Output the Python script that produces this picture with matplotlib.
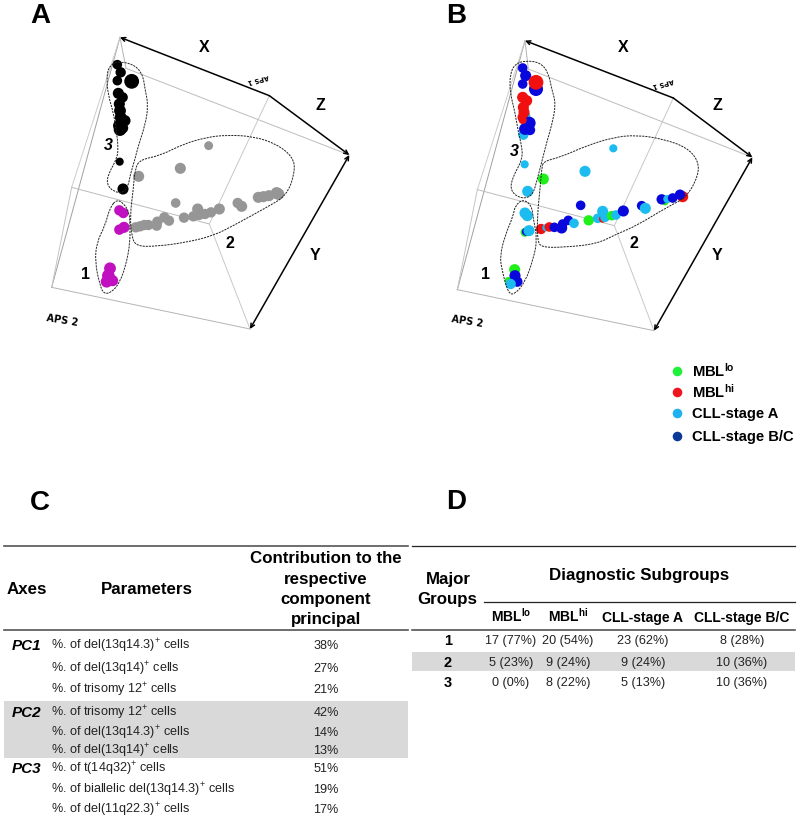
import numpy as np
import matplotlib
matplotlib.use('Agg')
import matplotlib.pyplot as plt
from matplotlib.path import Path
from matplotlib.patches import PathPatch, Rectangle

plt.rcParams['font.family'] = ['Liberation Sans', 'DejaVu Sans']
plt.rcParams['mathtext.fontset'] = 'custom'
plt.rcParams['mathtext.rm'] = 'Liberation Sans'
plt.rcParams['mathtext.bf'] = 'Liberation Sans:bold'
plt.rcParams['mathtext.default'] = 'regular'

W, H = 799, 820

GREEN = '#1ff01a'
RED = '#f01010'
CYAN = '#1cbcf0'
BLUE = '#0808dc'
NAVY = '#0b3a96'
BLACK = '#000000'
GRAY = '#969696'
MAGENTA = '#c010c0'

# panel A scores
a_black_x = [352, 362, 352, 395, 355, 368, 358, 360, 362, 375, 358, 368, 360, 359, 369]
a_black_y = [197, 220, 245, 247, 283, 295, 315, 335, 355, 365, 380, 387, 392, 488, 570]
a_black_r = [13, 14, 13, 20, 15, 14, 15, 16, 16, 15, 17, 15, 17, 11, 15]
a_gray_x = [416, 541, 626, 407, 420, 433, 445, 470, 472, 493, 507, 552, 580, 593, 597, 615, 633, 658, 527, 713, 725, 775, 790, 807, 830, 835]
a_gray_y = [532, 508, 440, 685, 682, 678, 678, 680, 668, 655, 665, 656, 652, 630, 648, 645, 640, 630, 612, 612, 622, 595, 593, 590, 582, 585]
a_gray_r = [15, 15, 12, 14, 14, 14, 14, 14, 14, 14, 14, 14, 14, 15, 14, 14, 14, 15, 13, 14, 15, 15, 15, 15, 16, 16]
a_mag_x = [358, 370, 358, 372, 330, 325, 320, 338]
a_mag_y = [634, 642, 692, 685, 808, 830, 848, 845]
a_mag_r = [14, 14, 14, 15, 16, 17, 16, 15]

# panel B scores, drawn in this order
b_x = [368, 377, 368, 408, 408, 370, 380, 368, 380, 370, 372, 368, 388, 375, 390, 368,
       374, 383, 375, 382, 375, 378, 387, 344, 325, 345, 352, 332,
       430, 555, 640, 542, 423, 438, 448, 463, 485, 488, 505, 522, 566, 593, 608, 608, 615, 635, 648, 670,
       725, 736, 795, 785, 802, 818, 848, 840]
b_y = [207, 230, 255, 270, 250, 407, 350, 295, 305, 325, 340, 355, 372, 390, 393, 363,
       496, 577, 642, 650, 700, 698, 695, 812, 845, 830, 848, 855,
       540, 517, 448, 619, 690, 686, 684, 685, 687, 675, 664, 673, 664, 658, 660, 637, 655, 650, 648, 636,
       620, 628, 608, 601, 600, 597, 593, 587]
b_r = [13, 15, 13, 19, 20, 14, 10, 15, 15, 15, 15, 14, 17, 16, 14, 11,
       11, 15, 15, 15, 12, 11, 15, 15, 10, 15, 14, 14,
       15, 15, 11, 13, 14, 10, 13, 13, 15, 13, 13, 13, 14, 13, 10, 15, 13, 13, 13, 15,
       13, 15, 10, 14, 11, 13, 15, 14]
b_c = [BLUE, BLUE, BLUE, BLUE, RED, CYAN, CYAN, RED, RED, RED, RED, RED, BLUE, BLUE, BLUE, RED,
       CYAN, CYAN, CYAN, CYAN, GREEN, BLUE, CYAN, GREEN, GREEN, BLUE, BLUE, CYAN,
       GREEN, CYAN, CYAN, BLUE, RED, CYAN, RED, BLUE, BLUE, BLUE, BLUE, CYAN, GREEN, CYAN, RED, CYAN, CYAN, GREEN, CYAN, BLUE,
       BLUE, CYAN, GREEN, BLUE, CYAN, BLUE, RED, BLUE]

# dashed group outlines
a_group3 = [(350, 187), (400, 195), (428, 225), (435, 270), (445, 320), (435, 380), (415, 440), (405, 480), (390, 530),
            (385, 560), (370, 582), (340, 578), (320, 555), (325, 525), (350, 480), (355, 450), (350, 400), (340, 340),
            (325, 290), (320, 240), (325, 205)]
a_group1 = [(350, 602), (370, 612), (388, 640), (390, 680), (390, 730), (380, 790), (360, 850), (335, 880), (312, 885),
            (300, 860), (285, 790), (290, 730), (315, 680), (330, 625)]
a_group2 = [(420, 482), (480, 470), (550, 435), (620, 415), (680, 408), (760, 412), (830, 435), (880, 475), (885, 520),
            (860, 590), (800, 625), (700, 680), (640, 710), (560, 730), (470, 742), (410, 742), (395, 715), (390, 650),
            (400, 570), (405, 510)]
b_group3 = [(375, 185), (420, 190), (445, 220), (455, 270), (468, 315), (455, 380), (440, 430), (425, 490), (412, 540),
            (398, 590), (365, 600), (332, 578), (335, 540), (368, 480), (365, 440), (355, 400), (345, 340), (330, 280),
            (330, 225), (345, 195)]
b_group1 = [(370, 600), (395, 620), (400, 660), (412, 720), (400, 780), (375, 850), (345, 885), (325, 885), (305, 810),
            (300, 770), (315, 710), (340, 650), (345, 620)]
b_group2 = [(430, 487), (480, 475), (560, 440), (640, 415), (710, 408), (790, 420), (860, 445), (895, 485), (895, 530),
            (860, 595), (800, 625), (710, 680), (650, 705), (590, 735), (490, 745), (425, 745), (412, 725), (412, 650),
            (420, 570), (425, 510)]

# table C
c_axes = ['PC1', '', '', 'PC2', '', '', 'PC3', '', '']
c_params = ['%. of del(13q14.3)$^{+}$ cells', '%. of del(13q14)$^{+}$ cells', '%. of trisomy 12$^{+}$ cells',
            '%. of trisomy 12$^{+}$ cells', '%. of del(13q14.3)$^{+}$ cells', '%. of del(13q14)$^{+}$ cells',
            '%. of t(14q32)$^{+}$ cells', '%. of biallelic del(13q14.3)$^{+}$ cells', '%. of del(11q22.3)$^{+}$ cells']
c_values = ['38%', '27%', '21%', '42%', '14%', '13%', '51%', '19%', '17%']
c_rows_y = [645, 668, 689, 712, 732, 750, 768, 789, 809]

# table D
d_groups = ['1', '2', '3']
d_columns = [r'MBL$^{\mathbf{lo}}$', r'MBL$^{\mathbf{hi}}$', 'CLL-stage A', 'CLL-stage B/C']
d_mbl_lo = ['17 (77%)', '5 (23%)', '0 (0%)']
d_mbl_hi = ['20 (54%)', '9 (24%)', '8 (22%)']
d_stage_a = ['23 (62%)', '9 (24%)', '5 (13%)']
d_stage_bc = ['8 (28%)', '10 (36%)', '10 (36%)']
d_rows_y = [640, 662, 682]
d_cols_x = [511, 568, 643, 742]

legend_labels = [r'MBL$^{\mathbf{lo}}$', r'MBL$^{\mathbf{hi}}$', 'CLL-stage A', 'CLL-stage B/C']
legend_colors = ['#1ff03a', '#f0141e', '#1fb0ee', NAVY]
legend_y = [372, 393, 414, 437]
legend_text_y = [377, 398, 418, 441]


def smooth_closed(pts):
    # closed curve through the midpoints of the outline points
    pts = np.array(pts, dtype=float)
    mids = (pts + np.roll(pts, -1, axis=0)) / 2
    verts = [mids[-1]]
    codes = [Path.MOVETO]
    for p, m in zip(pts, mids):
        verts += [p, m]
        codes += [Path.CURVE3, Path.CURVE3]
    return Path(verts, codes)


def size(r, scale=0.37):
    # crop radius -> scatter area in points^2
    return (2 * np.array(r) * scale * 72 / 100) ** 2


def draw_cube(ax, top, mid_top, right, inner, front, left, back, center):
    for p, q, col in [(top, left, '#a0a0a0'), (top, back, '#cccccc'), (top, inner, '#b4b4b4'), (inner, right, '#bcbcbc'),
                      (mid_top, center, '#c8c8c8'), (back, center, '#bcbcbc'), (center, front, '#c8c8c8'),
                      (back, left, '#c4c4c4'), (left, front, '#b4b4b4')]:
        ax.plot([p[0], q[0]], [p[1], q[1]], color=col, lw=0.7, zorder=1)
    arrow = dict(color='black', lw=1.1, shrinkA=0, shrinkB=0, mutation_scale=7)
    ax.annotate('', xy=top, xytext=mid_top, arrowprops=dict(arrowstyle='->', **arrow))
    ax.annotate('', xy=right, xytext=mid_top, arrowprops=dict(arrowstyle='->', **arrow))
    ax.annotate('', xy=front, xytext=right, arrowprops=dict(arrowstyle='<->', **arrow))


def panel_axes(x0, width):
    ax = fig.add_axes([x0 / W, 1 - 340 / H, width / W, 340 / H])
    ax.set_xlim(0, width * 3)
    ax.set_ylim(1020, 0)
    ax.axis('off')
    return ax


def outlines(ax, groups):
    for g in groups:
        ax.add_patch(PathPatch(smooth_closed(g), fill=False, ec='#222222', lw=0.7, ls=(0, (2.2, 1)), zorder=4))


fig = plt.figure(figsize=(W / 100, H / 100), dpi=100)

# panel A
ax_a = panel_axes(0, 370)
draw_cube(ax_a, (360, 115), (808, 290), (1048, 468), (378, 208), (750, 990), (155, 865), (215, 565), (628, 675))
ax_a.scatter(a_gray_x, a_gray_y, s=size(a_gray_r), c=GRAY, lw=0, zorder=3)
ax_a.scatter(a_mag_x, a_mag_y, s=size(a_mag_r), c=MAGENTA, lw=0, zorder=3)
ax_a.scatter(a_black_x, a_black_y, s=size(a_black_r), c=BLACK, lw=0, zorder=3)
outlines(ax_a, [a_group1, a_group2, a_group3])

# panel B
ax_b = panel_axes(400, 399)
draw_cube(ax_b, (375, 125), (820, 297), (1057, 475), (385, 210), (762, 995), (172, 872), (232, 572), (643, 680))
ax_b.scatter(b_x, b_y, s=size(b_r), c=b_c, lw=0, zorder=3)
outlines(ax_b, [b_group1, b_group2, b_group3])

# everything else in picture pixels
ax = fig.add_axes([0, 0, 1, 1], facecolor='none')
ax.set_xlim(0, W)
ax.set_ylim(H, 0)
ax.axis('off')

for s, x, y in [('A', 40, 16), ('B', 456, 16), ('C', 40, 503), ('D', 456, 502)]:
    ax.text(x, y, s, fontsize=20, fontweight='bold', ha='center', va='center')

for s, x, y in [('X', 204, 48), ('Z', 320, 106), ('Y', 315, 255), ('X', 623, 48), ('Z', 717, 105), ('Y', 717, 255),
                ('1', 85, 275), ('2', 230, 243), ('1', 485, 275), ('2', 634, 243)]:
    ax.text(x, y, s, fontsize=11.5, fontweight='bold', ha='center', va='center')
for x, y in [(108, 146), (514, 152)]:
    ax.text(x, y, '3', fontsize=11.5, fontweight='bold', style='italic', ha='center', va='center')

for x, y in [(258, 79), (663, 83)]:
    ax.text(x, y, 'APS 1', fontsize=4.8, fontweight='bold', rotation=195, family='DejaVu Sans', ha='center', va='center')
for x, y in [(62, 321), (467, 322)]:
    ax.text(x, y, 'APS 2', fontsize=7, fontweight='bold', rotation=-9, family='DejaVu Sans', ha='center', va='center')

# legend
for lab, col, y, ty in zip(legend_labels, legend_colors, legend_y, legend_text_y):
    ax.scatter([677], [y], s=size(4.8, 1), c=col, lw=0)
    ax.text(692, ty, lab, fontsize=10.6, fontweight='bold', va='baseline')

# table C
ax.add_patch(Rectangle((4, 702), 404, 57, fc='#d9d9d9', ec='none', zorder=0))
ax.plot([4, 408], [547, 547], color='#555555', lw=1.2)
ax.plot([4, 408], [631, 631], color='#555555', lw=1.2)
ax.text(27, 590, 'Axes', fontsize=12.2, fontweight='bold', ha='center', va='center')
ax.text(147, 590, 'Parameters', fontsize=12.2, fontweight='bold', ha='center', va='center')
for s, y in zip(['Contribution to the', 'respective', 'component', 'principal'], [559, 580, 600, 620]):
    ax.text(326, y, s, fontsize=12.2, fontweight='bold', ha='center', va='center')
for a, p, v, y in zip(c_axes, c_params, c_values, c_rows_y):
    ax.text(27, y + 5, a, fontsize=11, fontweight='bold', style='italic', ha='center', va='baseline')
    ax.text(51, y + 4.5, p, fontsize=9.1, color='#222222', va='baseline')
    ax.text(326, y + 4.5, v, fontsize=9.1, color='#222222', ha='center', va='baseline')

# table D
ax.add_patch(Rectangle((412, 653), 383, 19, fc='#d9d9d9', ec='none', zorder=0))
ax.plot([412, 795], [547, 547], color='#222222', lw=0.9)
ax.plot([484, 795], [603, 603], color='#222222', lw=0.9)
ax.plot([412, 795], [631, 631], color='#444444', lw=1.1)
ax.text(448, 580, 'Major', fontsize=12.2, fontweight='bold', ha='center', va='center')
ax.text(447, 600, 'Groups', fontsize=12.2, fontweight='bold', ha='center', va='center')
ax.text(639, 576, 'Diagnostic Subgroups', fontsize=12.2, fontweight='bold', ha='center', va='center')
for s, x in zip(d_columns, d_cols_x):
    ax.text(x, 622, s, fontsize=10, fontweight='bold', ha='center', va='baseline')
for i, y in enumerate(d_rows_y):
    ax.text(448, y + 5, d_groups[i], fontsize=10.5, fontweight='bold', ha='center', va='baseline')
    for col, x in zip([d_mbl_lo, d_mbl_hi, d_stage_a, d_stage_bc], d_cols_x):
        ax.text(x, y + 4.5, col[i], fontsize=9.1, color='#222222', ha='center', va='baseline')

fig.savefig('out.png', dpi=100)
